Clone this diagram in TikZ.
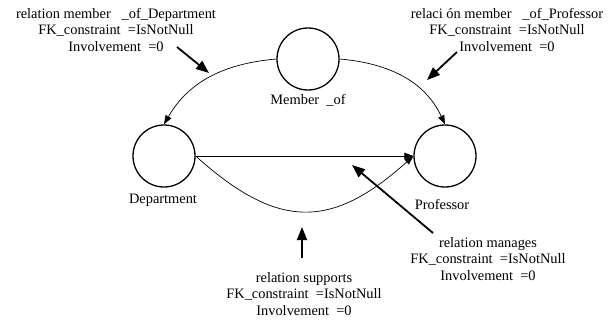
\documentclass[tikz,border=0pt]{standalone}
\usepackage{fontspec}
\setmainfont{Liberation Serif}
\usetikzlibrary{arrows.meta}
\begin{document}
\begin{tikzpicture}[x=1pt,y=-1pt,
 ent/.style={circle,draw,line width=1.3pt,minimum size=62pt,inner sep=0pt},
 lbl/.style={font=\fontsize{14.4}{16.5}\selectfont,inner sep=0pt,align=center},
 conn/.style={line width=0.7pt,-{Triangle[length=9pt,width=6.5pt]}},
 ptr/.style={line width=1.8pt,-{Triangle[length=13pt,width=10pt]}}]
\useasboundingbox (0,0) rectangle (612,321);
\node[ent] (mem) at (308,59) {};
\node[ent] (dep) at (164,156) {};
\node[ent] (pro) at (445,156) {};
\node[lbl] (meml) at (308,100) {Member \ \_of};
\node[lbl] (depl) at (163,200) {Department};
\node[lbl] (prol) at (442,204) {Professor};
\node[lbl] (t1) at (116,30) {relation member \ \ \_of\_Department\\FK\_constraint \ =IsNotNull\\Involvement \ =0};
\node[lbl] (t2) at (507,30) {relaci ón member \ \ \_of\_Professor\\FK\_constraint \ =IsNotNull\\Involvement \ =0};
\node[lbl] (t3) at (488,259) {relation manages\\FK\_constraint \ =IsNotNull\\Involvement \ =0};
\node[lbl] (t4) at (304,294) {relation supports\\FK\_constraint \ =IsNotNull\\Involvement \ =0};
\draw[conn] (mem.west) to[out=185,in=60] (dep.north);
\draw[conn] (mem.east) to[out=-5,in=115] (pro.north);
\draw[conn] (dep.east) -- (pro.west);
\draw[conn] (dep.east) to[out=-42,in=222,looseness=1.3] (pro.west);
\coordinate (p1s) at (177,47); \coordinate (p1e) at (209,73);
\coordinate (p2s) at (457,52); \coordinate (p2e) at (427,80);
\coordinate (p3s) at (433,233); \coordinate (p3e) at (352,165);
\coordinate (p4s) at (302,258); \coordinate (p4e) at (302,227);
\draw[ptr] (p1s) -- (p1e);
\draw[ptr] (p2s) -- (p2e);
\draw[ptr] (p3s) -- (p3e);
\draw[ptr] (p4s) -- (p4e);
\end{tikzpicture}
\end{document}
